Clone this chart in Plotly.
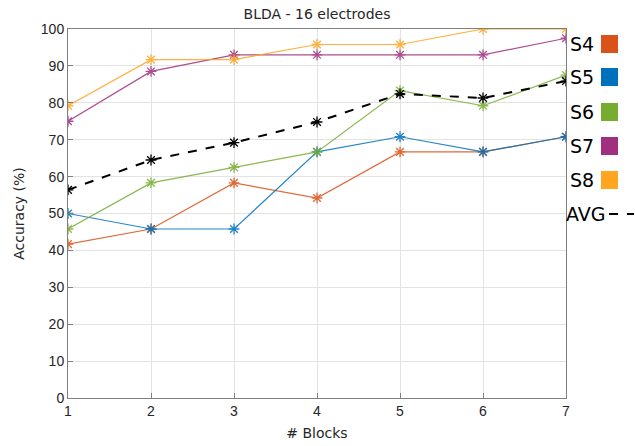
import plotly.graph_objects as go

blocks = [1, 2, 3, 4, 5, 6, 7]
s4 = [41.7, 45.8, 58.3, 54.2, 66.7, 66.7, 70.8]
s5 = [50.0, 45.8, 45.8, 66.7, 70.8, 66.7, 70.8]
s6 = [45.8, 58.3, 62.5, 66.7, 83.3, 79.2, 87.5]
s7 = [75.0, 88.5, 93.0, 93.0, 93.0, 93.0, 97.5]
s8 = [79.2, 91.7, 91.7, 95.8, 95.8, 100.0, 100.0]
avg = [56.4, 64.5, 69.2, 74.8, 82.4, 81.3, 85.9]

names = ["S4", "S5", "S6", "S7", "S8"]
colors = ["#D95319", "#0072BD", "#77AC30", "#A0307F", "#FFA51F"]
series = [s4, s5, s6, s7, s8]

fig = go.Figure()
for name, col, vals in zip(names, colors, series):
    fig.add_trace(go.Scatter(
        x=blocks, y=vals, name=name, mode="lines+markers",
        line=dict(color=col, width=1.2),
        marker=dict(symbol="asterisk-open", size=9, color=col, line=dict(color=col, width=1.3)),
        opacity=0.85,
    ))
fig.add_trace(go.Scatter(
    x=blocks, y=avg, name="AVG", mode="lines+markers",
    line=dict(color="black", width=2, dash="dash"),
    marker=dict(symbol="asterisk-open", size=9, color="black", line=dict(color="black", width=1.3)),
))

font = "DejaVu Sans, Liberation Sans, sans-serif"
tfont = "Liberation Sans, Arial, sans-serif"
axis_common = dict(
    showline=True, linecolor="#7f7f7f", linewidth=1, mirror=True,
    showgrid=True, gridcolor="#e3e3e3", gridwidth=1,
    ticks="inside", ticklen=5, tickcolor="#7f7f7f", automargin=False,
    zeroline=False, tickfont=dict(size=14, color="#262626", family=tfont),
)
fig.update_layout(
    width=635, height=446,
    margin=dict(l=68, r=69, t=29, b=48),
    paper_bgcolor="white", plot_bgcolor="white",
    showlegend=False,
    title=dict(text="BLDA - 16 electrodes", x=0.5, xref="paper", y=0.98, yanchor="top",
               font=dict(size=14, color="#262626", family=font)),
    xaxis=dict(range=[1, 7], tickvals=blocks, title=dict(text="# Blocks", standoff=10,
               font=dict(size=14, color="#262626", family=font)), **axis_common),
    yaxis=dict(range=[0, 100], dtick=10, title=dict(text="Accuracy (%)", standoff=12,
               font=dict(size=14, color="#262626", family=font)), **axis_common),
)

# legend: text then coloured square
leg_y = [44, 77, 112, 146, 180]
for name, col, yy in zip(names, colors, leg_y):
    fig.add_annotation(text=name, xref="paper", yref="paper",
                       x=(568 - 68) / 498, y=1 - (yy - 29) / 369,
                       xanchor="left", yanchor="middle", showarrow=False,
                       font=dict(size=19, color="black", family=font))
    fig.add_shape(type="rect", xref="paper", yref="paper",
                  x0=(601 - 68) / 498, x1=(618 - 68) / 498,
                  y0=1 - (yy + 9 - 29) / 369, y1=1 - (yy - 9 - 29) / 369,
                  fillcolor=col, line=dict(width=0))
fig.add_annotation(text="AVG", xref="paper", yref="paper",
                   x=(564 - 68) / 498, y=1 - (214 - 29) / 369,
                   xanchor="left", yanchor="middle", showarrow=False,
                   font=dict(size=19, color="black", family=font))
fig.add_shape(type="line", xref="paper", yref="paper",
              x0=(609 - 68) / 498, x1=(634 - 68) / 498,
              y0=1 - (214 - 29) / 369, y1=1 - (214 - 29) / 369,
              line=dict(color="black", width=2, dash="dash"))

fig.write_html("out.html", config={"displayModeBar": False},
               post_script="document.body.style.margin='0';")
